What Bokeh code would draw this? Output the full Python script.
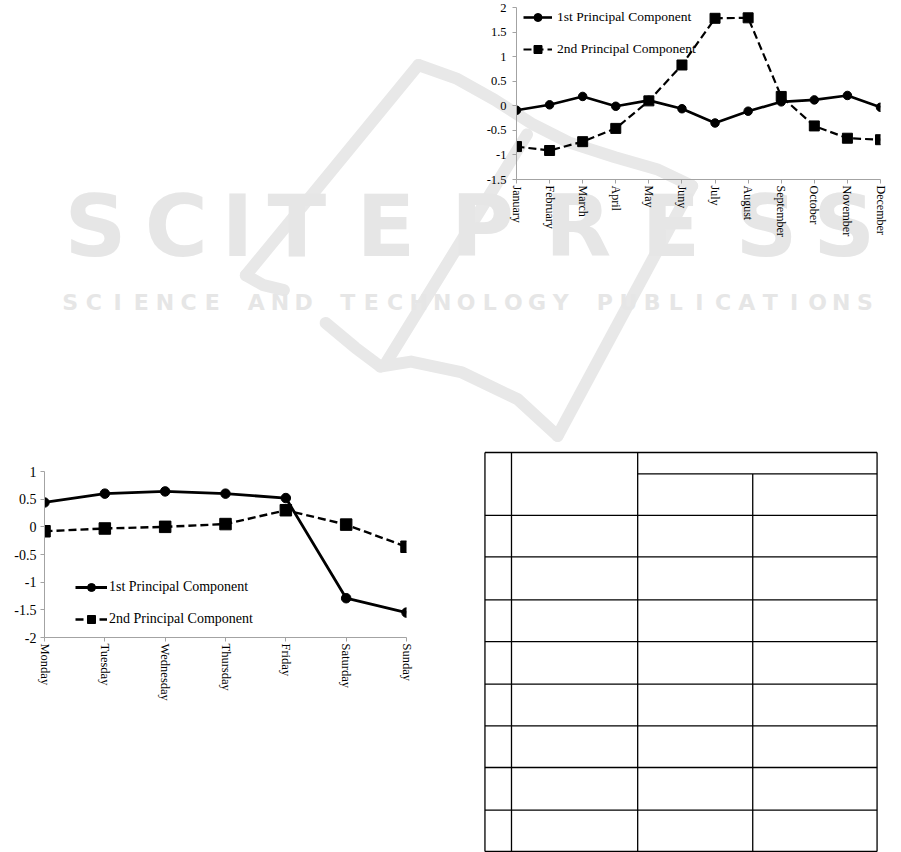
import math

from bokeh.core.properties import value
from bokeh.embed import file_html
from bokeh.models import (ColumnDataSource, CustomJSTickFormatter, FixedTicker,
                          GridBox, Legend, LegendItem, Range1d)
from bokeh.plotting import figure
from bokeh.resources import INLINE

# ---------------------------------------------------------------- data
months = ["January", "February", "March", "April", "May", "Juny", "July",
          "August", "September", "October", "November", "December"]
month_pc1 = [-0.09, 0.02, 0.19, -0.01, 0.11, -0.06, -0.35, -0.11, 0.08, 0.12, 0.21, -0.03]
month_pc2 = [-0.83, -0.91, -0.73, -0.46, 0.10, 0.83, 1.78, 1.79, 0.19, -0.41, -0.66, -0.69]
month_y_ticks = [-1.5, -1, -0.5, 0, 0.5, 1, 1.5, 2]

days = ["Monday", "Tuesday", "Wednesday", "Thursday", "Friday", "Saturday", "Sunday"]
day_pc1 = [0.44, 0.60, 0.64, 0.60, 0.52, -1.29, -1.55]
day_pc2 = [-0.08, -0.03, 0.00, 0.05, 0.30, 0.04, -0.36]
day_y_ticks = [-2, -1.5, -1, -0.5, 0, 0.5, 1]

series_names = ["1st Principal Component", "2nd Principal Component"]

wm_title = "SCITEPRESS"
wm_subtitle = "SCIENCE AND TECHNOLOGY PUBLICATIONS"

AXIS_GREY = "#a3a3a3"
SERIF = "Liberation Serif"


def line_chart(cats, s1, s2, y_ticks, width, height, borders, legend_xy,
               glyph_w, label_gap, legend_px, x_tick_px, y_tick_px, y_standoff,
               circle_size, square_size, solid_w, dash_w):
    left, right, top, bottom = borders
    p = figure(width=width, height=height, output_backend="svg",
               toolbar_location=None,
               x_range=Range1d(0, len(cats) - 1),
               y_range=Range1d(min(y_ticks), max(y_ticks)),
               min_border_left=left, min_border_right=right,
               min_border_top=top, min_border_bottom=bottom)
    p.background_fill_alpha = 0
    p.border_fill_alpha = 0
    p.outline_line_color = None
    p.grid.visible = False

    xs = list(range(len(cats)))
    src = ColumnDataSource(dict(x=xs, a=s1, b=s2))
    l2 = p.line("x", "b", source=src, line_color="black", line_width=dash_w,
                line_dash="8 4")
    m2 = p.scatter("x", "b", source=src, marker="square", size=square_size,
                   fill_color="black", line_color="black")
    l1 = p.line("x", "a", source=src, line_color="black", line_width=solid_w)
    m1 = p.scatter("x", "a", source=src, marker="circle", size=circle_size,
                   fill_color="black", line_color="black")

    for ax in (p.xaxis[0], p.yaxis[0]):
        ax.axis_line_color = AXIS_GREY
        ax.axis_line_width = 1
        ax.major_tick_line_color = AXIS_GREY
        ax.major_tick_in = 0
        ax.major_tick_out = 4
        ax.minor_tick_line_color = None
        ax.major_label_text_font = SERIF
        ax.major_label_text_color = "black"

    p.xaxis.ticker = FixedTicker(ticks=xs)
    p.xaxis.major_label_overrides = {i: c for i, c in enumerate(cats)}
    p.xaxis.major_label_orientation = "vertical"
    p.xaxis.major_label_standoff = 2
    p.xaxis.major_label_text_font_size = x_tick_px

    p.yaxis.ticker = FixedTicker(ticks=y_ticks)
    p.yaxis.formatter = CustomJSTickFormatter(code="return tick.toString();")
    p.yaxis.major_label_standoff = y_standoff
    p.yaxis.major_label_text_font_size = y_tick_px

    legend = Legend(
        items=[LegendItem(label=series_names[0], renderers=[l1, m1]),
               LegendItem(label=series_names[1], renderers=[l2, m2])],
        location=legend_xy, orientation="vertical",
        glyph_width=glyph_w, glyph_height=20, label_height=20,
        spacing=12, padding=0, margin=0, label_standoff=label_gap,
        label_text_font=SERIF, label_text_font_size=legend_px,
        label_text_color="black",
        background_fill_alpha=0, border_line_alpha=0)
    p.add_layout(legend)
    return p


# ---------------------------------------------------------------- page
page = figure(width=901, height=852, output_backend="svg", toolbar_location=None,
              x_range=Range1d(0, 901), y_range=Range1d(852, 0),
              x_axis_location=None, y_axis_location=None, min_border=0)
page.grid.visible = False
page.outline_line_color = None
page.background_fill_color = "white"
page.border_fill_color = "white"

# publisher watermark: logo outline strokes
logo_xs = [
    [403, 217],
    [217, 236, 258],
    [303, 335, 362],
    [362, 395, 450, 510, 553],
    [553, 698],
    [367, 520],
    [403, 445, 485, 525, 565, 615, 660, 698],
]
logo_ys = [
    [58, 270],
    [270, 280, 285],
    [318, 343, 362],
    [362, 357, 368, 395, 432],
    [432, 180],
    [360, 128],
    [58, 72, 93, 117, 136, 151, 163, 180],
]
page.multi_line(xs=logo_xs, ys=logo_ys, line_color="#e8e8e8", line_width=12,
                line_cap="round", line_join="round")

# watermark lettering
title_centers = [55, 142, 208, 272, 368, 472, 575, 675, 778, 862]
page.text(x=title_centers, y=[220] * len(wm_title), text=list(wm_title),
          text_font=value("DejaVu Sans"), text_font_style="bold",
          text_font_size="86px", text_color="#e6e6e6",
          text_align="center", text_baseline="alphabetic")

sub_x, sub_chars = [], []
pitch, gap, cursor = 25.5, 22, 15
for word in wm_subtitle.split(" "):
    for ch in word:
        sub_x.append(cursor + pitch / 2)
        sub_chars.append(ch)
        cursor += pitch
    cursor += gap
page.text(x=sub_x, y=[297] * len(sub_chars), text=sub_chars,
          text_font=value("DejaVu Sans"), text_font_style="bold",
          text_font_size="22px", text_color="#e6e6e6",
          text_align="center", text_baseline="alphabetic")

# ruled table frame
col_edges = [474.7, 503.3, 639.3, 763.3, 897.3]
row_edges = [448.7, 512, 554, 597.3, 639.3, 682.3, 724.3, 766.3, 809.3, 851]
sub_header = 470.3
x0s, y0s, x1s, y1s = [], [], [], []
for i, cx in enumerate(col_edges):
    x0s.append(cx); x1s.append(cx)
    y0s.append(sub_header if i == 3 else row_edges[0]); y1s.append(row_edges[-1])
for ry in row_edges:
    x0s.append(col_edges[0]); x1s.append(col_edges[-1])
    y0s.append(ry); y1s.append(ry)
x0s.append(col_edges[2]); x1s.append(col_edges[-1])
y0s.append(sub_header); y1s.append(sub_header)
page.segment(x0=x0s, y0=y0s, x1=x1s, y1=y1s, line_color="black", line_width=1.3)

# ---------------------------------------------------------------- charts
month_chart = line_chart(months, month_pc1, month_pc2, month_y_ticks,
                         431, 270, (46, 21, 7, 91), (7, 120),
                         29, 5, "13.5px", "12px", "12.5px", 6,
                         8.5, 10, 2.6, 2.2)
day_chart = line_chart(days, day_pc1, day_pc2, day_y_ticks,
                       440, 260, (44, 34, 16, 78), (31, 8),
                       32, 2, "14px", "12.5px", "14px", 4,
                       9.5, 11.5, 2.8, 2.4)

grid = GridBox(children=[(page, 0, 0, 4, 3), (month_chart, 0, 2), (day_chart, 2, 0)],
               rows=["270px", "185px", "260px", "137px"],
               cols=["440px", "30px", "431px"], spacing=0)

open("out.html", "w").write(file_html(grid, INLINE))
